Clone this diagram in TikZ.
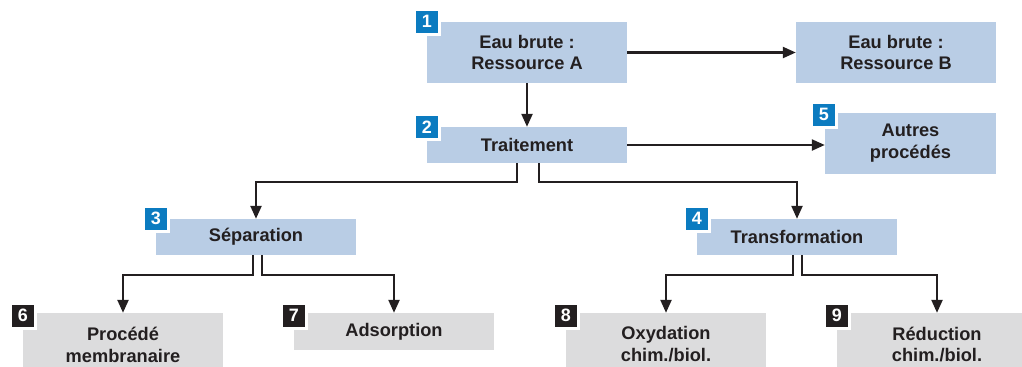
\documentclass[tikz,border=0pt]{standalone}
\usepackage{fontspec}
\setmainfont{Liberation Sans}
\usetikzlibrary{arrows.meta,calc}
\definecolor{boxblue}{HTML}{B9CDE5}
\definecolor{boxgray}{HTML}{DCDCDD}
\definecolor{tagblue}{HTML}{0B7BC0}
\definecolor{tagblack}{HTML}{231F20}
\definecolor{ink}{HTML}{231F20}
\begin{document}
\begin{tikzpicture}[x=1bp,y=-1bp,
  box/.style={inner sep=0pt, minimum width=200bp, align=center, text=ink,
    font=\fontsize{18.3}{22}\selectfont\bfseries},
  bluebox/.style={box, fill=boxblue},
  graybox/.style={box, fill=boxgray},
  tag/.style={draw=white, line width=3bp, minimum size=25bp, inner sep=0pt,
    text=white, font=\fontsize{18}{18}\selectfont\bfseries},
  arr/.style={draw=ink, line width=2.3bp, -{Triangle[length=13bp,width=11bp]}},
]
\useasboundingbox (0,0) rectangle (1022,366);
\clip (0,0) rectangle (1022,366);

% process boxes
\node[bluebox, minimum height=61bp] (b1) at (527,52.5) {Eau brute :\\Ressource A};
\node[bluebox, minimum height=61bp] (bB) at (896,52.5) {Eau brute :\\Ressource B};
\node[bluebox, minimum height=36bp] (b2) at (527,145) {Traitement};
\node[bluebox, minimum width=171bp, minimum height=61bp] (b5) at (910.5,143.5) {Autres\\procédés};
\node[bluebox, minimum height=36bp] (b3) at (256,237) {Séparation};
\node[bluebox, minimum height=36bp] (b4) at (797,237) {Transformation};
\node[graybox, minimum height=63bp] (b6) at (123,344.5) {Procédé\\membranaire};
\node[graybox, minimum height=37bp] (b7) at (394,331.5) {Adsorption};
\node[graybox, minimum height=63bp] (b8) at (666,344.5) {Oxydation\\chim./biol.};
\node[graybox, minimum height=63bp] (b9) at (937,344.5) {Réduction\\chim./biol.};

% connectors
\draw[arr] (b1) -- (bB);
\draw[arr] (b1) -- (b2);
\draw[arr] (b2.east) -- (b2.east -| b5.west);
\draw[arr] ([xshift=-10bp]b2.south) -- ++(0,19) -| (b3.north);
\draw[arr] ([xshift=12bp]b2.south) -- ++(0,19) -| (b4.north);
\draw[arr] ([xshift=-3bp]b3.south) -- ++(0,20) -| (b6.north);
\draw[arr] ([xshift=6bp]b3.south) -- ++(0,20) -| (b7.north);
\draw[arr] ([xshift=-4bp]b4.south) -- ++(0,20) -| (b8.north);
\draw[arr] ([xshift=5bp]b4.south) -- ++(0,20) -| (b9.north);

% numbered tags
\node[tag, fill=tagblue] (t1) at (b1.north west) {1};
\node[tag, fill=tagblue] (t2) at (b2.north west) {2};
\node[tag, fill=tagblue] (t3) at (b3.north west) {3};
\node[tag, fill=tagblue] (t4) at (b4.north west) {4};
\node[tag, fill=tagblue] (t5) at ($(b5.north west)+(-1,2)$) {5};
\node[tag, fill=tagblack] (t6) at ($(b6.north west)+(0,3)$) {6};
\node[tag, fill=tagblack] (t7) at ($(b7.north west)+(0,3)$) {7};
\node[tag, fill=tagblack] (t8) at ($(b8.north west)+(0,3)$) {8};
\node[tag, fill=tagblack] (t9) at ($(b9.north west)+(0,3)$) {9};
\end{tikzpicture}
\end{document}
